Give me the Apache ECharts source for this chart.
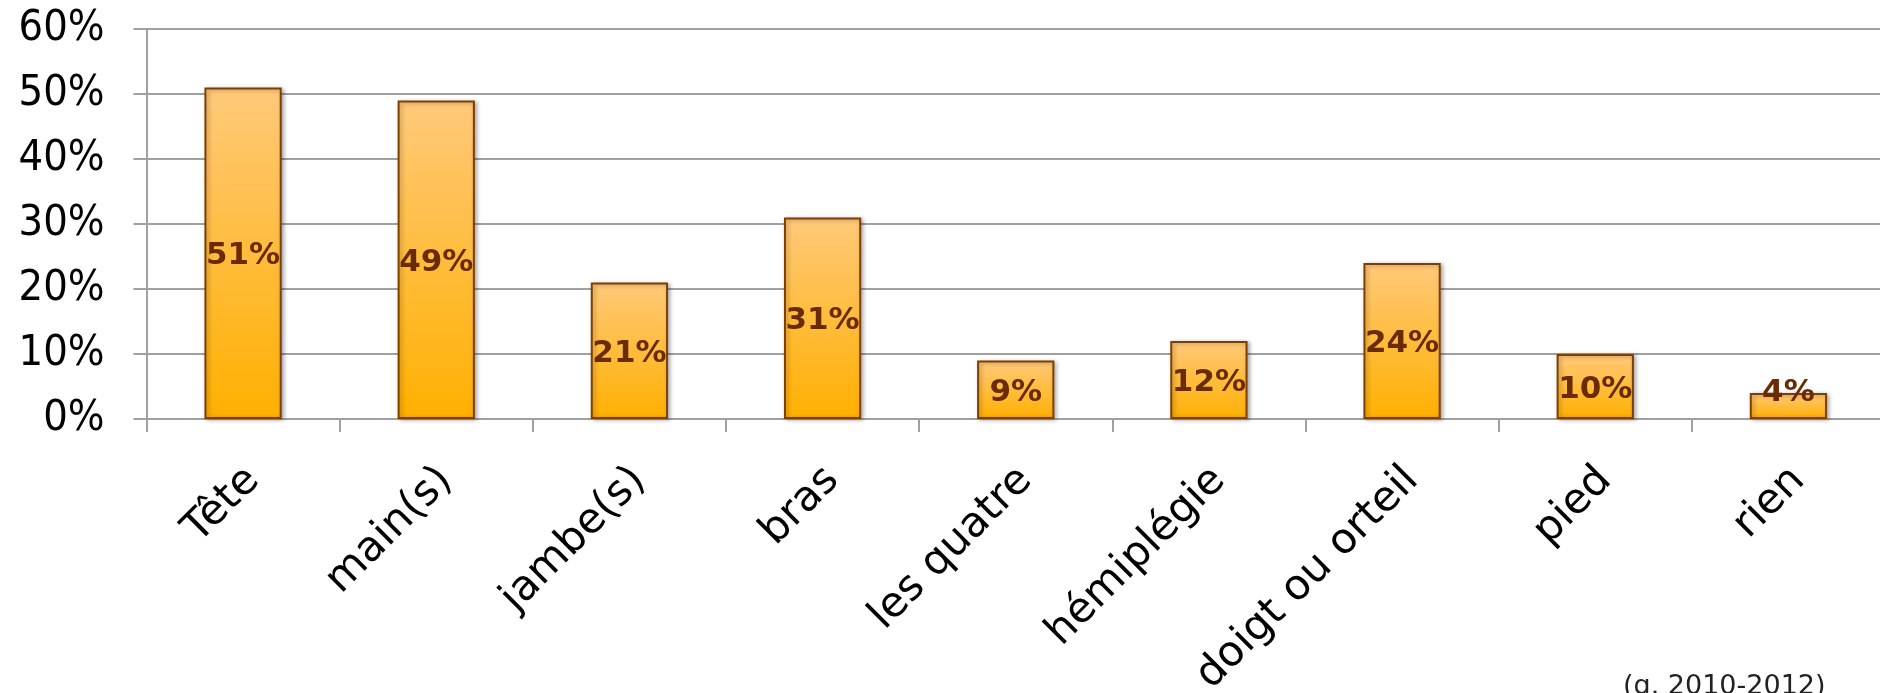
<!DOCTYPE html>
<html>
<head>
<meta charset="utf-8">
<script src="https://cdn.jsdelivr.net/npm/echarts@6/dist/echarts.min.js"></script>
<style>
html,body{margin:0;padding:0;background:#fff;}
#chart{width:1880px;height:693px;}
</style>
</head>
<body>
<div id="chart"></div>
<script>
const categories = ['Tête', 'main(s)', 'jambe(s)', 'bras', 'les quatre', 'hémiplégie', 'doigt ou orteil', 'pied', 'rien'];
const values = [51, 49, 21, 31, 9, 12, 24, 10, 4];
const yTicks = [0, 10, 20, 30, 40, 50, 60];
const note = '(g. 2010-2012)';

const chart = echarts.init(document.getElementById('chart'), null, {renderer: 'canvas'});
const gridColor = '#a0a0a0';
// labels of very short bars are lifted so they stay above the axis
const seriesData = values.map(v => ({
  value: v,
  label: {offset: v < 6 ? [0, -13] : [0, 3]}
}));

chart.setOption({
  animation: false,
  backgroundColor: '#ffffff',
  grid: {left: 146.5, right: -5, top: 29, bottom: 274, containLabel: false, outerBoundsMode: 'none'},
  xAxis: {
    type: 'category',
    data: categories,
    boundaryGap: true,
    axisLine: {show: true, lineStyle: {color: gridColor, width: 2}},
    axisTick: {show: true, length: 13, alignWithLabel: false, lineStyle: {color: gridColor, width: 2}},
    axisLabel: {
      interval: 0, rotate: 45, margin: 45, hideOverlap: false,
      verticalAlign: 'top', lineHeight: 28,
      fontFamily: 'DejaVu Sans', fontSize: 42, color: '#000'
    }
  },
  yAxis: {
    type: 'value',
    min: yTicks[0], max: yTicks[yTicks.length - 1], interval: 10,
    axisLine: {show: true, lineStyle: {color: gridColor, width: 2}},
    axisTick: {show: true, length: 13, lineStyle: {color: gridColor, width: 2}},
    splitLine: {show: true, lineStyle: {color: gridColor, width: 2}},
    axisLabel: {
      formatter: '{value}%', margin: 42,
      fontFamily: 'DejaVu Sans Condensed', fontSize: 43, color: '#000'
    }
  },
  series: [{
    type: 'bar',
    data: seriesData,
    barWidth: '40%',
    itemStyle: {
      color: new echarts.graphic.LinearGradient(0, 0, 0, 1, [
        {offset: 0, color: '#ffc97a'},
        {offset: 1, color: '#ffb000'}
      ]),
      borderColor: '#7f3f00',
      borderWidth: 2,
      shadowColor: 'rgba(0,0,0,0.3)',
      shadowBlur: 4,
      shadowOffsetX: 2,
      shadowOffsetY: 1
    },
    label: {
      show: true, position: 'inside', formatter: '{c}%',
      fontFamily: 'DejaVu Sans', fontWeight: 'bold', fontSize: 31, color: '#6b2b00'
    }
  }],
  graphic: [{
    type: 'text', left: 1623, top: 673,
    style: {text: note, fontFamily: 'DejaVu Sans', fontSize: 27, fill: '#222'}
  }]
});
</script>
</body>
</html>
